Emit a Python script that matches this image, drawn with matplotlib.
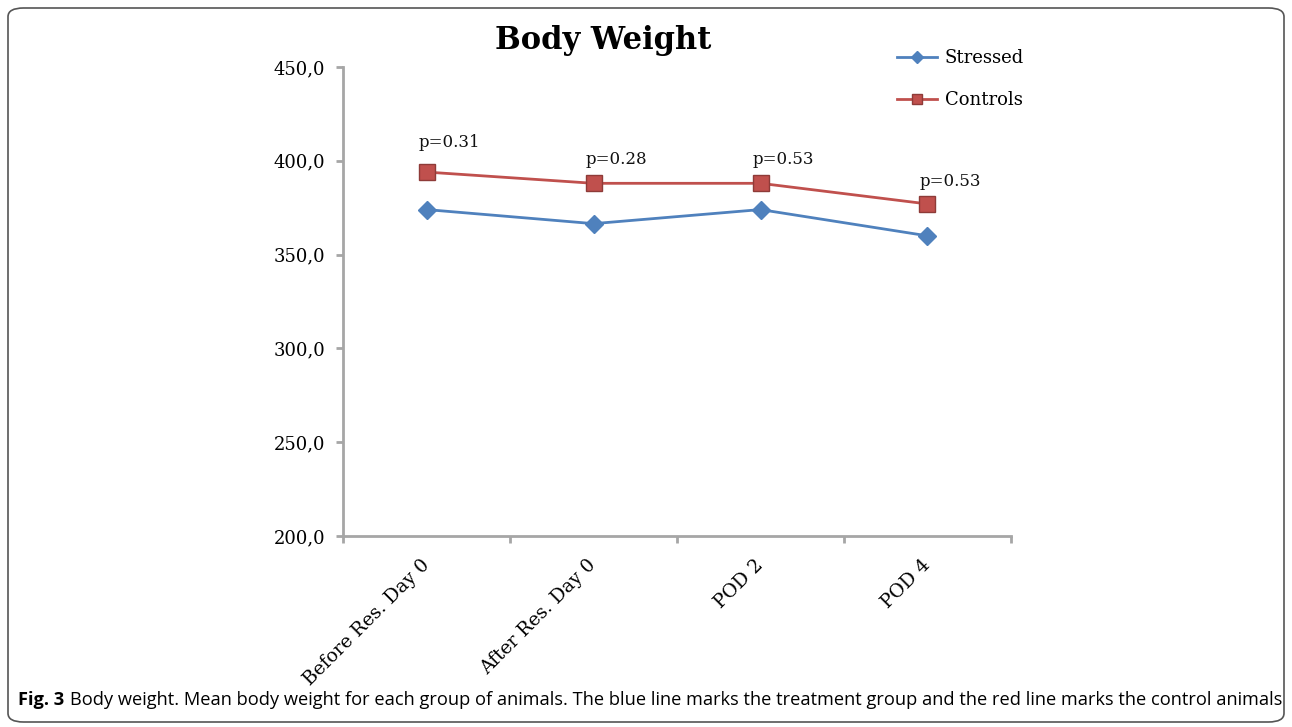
import matplotlib
matplotlib.use("Agg")
import matplotlib.pyplot as plt
from matplotlib.patches import FancyBboxPatch
from matplotlib.ticker import FuncFormatter, FixedLocator
from matplotlib import font_manager

# ---- data ----
categories = ["Before Res. Day 0", "After Res. Day 0", "POD 2", "POD 4"]
stressed = [374, 366.5, 374, 360]
controls = [394, 388, 388, 377]
p_values = ["p=0.31", "p=0.28", "p=0.53", "p=0.53"]
p_label_y = [409.5, 400.5, 400.5, 389]
y_ticks = [200, 250, 300, 350, 400, 450]
title = "Body Weight"
caption_bold = "Fig. 3"
caption_rest = ("Body weight. Mean body weight for each group of animals. The blue line marks "
                "the treatment group and the red line marks the control animals")

W, H = 1292, 727
fig = plt.figure(figsize=(W / 100, H / 100), dpi=100)

serif = "DejaVu Serif"
blue = "#4F81BD"
red = "#C0504D"
axis_grey = "#A6A6A6"

ax = fig.add_axes([343 / W, 1 - 536 / H, (1011 - 343) / W, (536 - 67) / H])
x = list(range(len(categories)))
ax.plot(x, stressed, color=blue, lw=2, marker="D", ms=9, mfc=blue, mec=blue,
        label="Stressed", clip_on=False)
ax.plot(x, controls, color=red, lw=2, marker="s", ms=11, mfc=red, mec="#8E3B38",
        mew=1, label="Controls", clip_on=False)

for xi, lbl, yl in zip(x, p_values, p_label_y):
    ax.text(xi - 0.05, yl, lbl, fontsize=12, family=serif, ha="left", va="center",
            color="#111111")

ax.set_xlim(-0.5, len(categories) - 0.5)
ax.set_ylim(y_ticks[0], y_ticks[-1])
ax.set_yticks(y_ticks)
ax.yaxis.set_major_formatter(FuncFormatter(lambda v, p: f"{v:.1f}".replace(".", ",")))

ax.set_xticks(x)
ax.set_xticklabels(categories, rotation=45, ha="right", va="center",
                   rotation_mode="anchor", fontsize=13.5, family=serif)
ax.tick_params(axis="x", which="major", length=0, pad=19)
ax.xaxis.set_minor_locator(FixedLocator([i - 0.5 for i in range(len(categories) + 1)]))
ax.tick_params(axis="x", which="minor", length=5, width=2, color=axis_grey, direction="out")
ax.tick_params(axis="y", length=5, width=2, color=axis_grey, direction="out", pad=8,
               labelsize=13)
for t in ax.get_yticklabels():
    t.set_family(serif)

for s in ["top", "right"]:
    ax.spines[s].set_visible(False)
for s in ["left", "bottom"]:
    ax.spines[s].set_color(axis_grey)
    ax.spines[s].set_linewidth(2)

fig.text(603 / W, 1 - 41 / H, title, fontsize=22, fontweight="bold", family=serif,
         ha="center", va="center")

leg = fig.legend(loc="upper left", bbox_to_anchor=(897 / W, 1 - 49 / H), frameon=False,
                 prop={"family": serif, "size": 13}, handlelength=2.2, markerscale=0.7,
                 handletextpad=0.45, labelspacing=1.35, borderpad=0, borderaxespad=0)

# frame
frame = FancyBboxPatch((8 / W, 5 / H), (W - 16) / W, (H - 13) / H,
                       boxstyle="round,pad=0,rounding_size=0.012",
                       transform=fig.transFigure, fill=False, ec="#555555", lw=1.2)
fig.add_artist(frame)

# caption font
cap_family = ["Open Sans"]
try:
    font_manager.findfont("Liberation Sans Narrow", fallback_to_default=False)
    cap_family = ["Liberation Sans Narrow", "Open Sans"]
except Exception:
    pass

cap_size = 13
t1 = fig.text(18 / W, 1 - 700 / H, caption_bold, fontsize=cap_size, fontweight="bold",
              family=cap_family, ha="left", va="center")
t2 = ax.annotate(caption_rest, xy=(1, 0.5), xycoords=t1, xytext=(4, 0),
                 textcoords="offset points", ha="left", va="center",
                 fontsize=cap_size, family=cap_family, annotation_clip=False)

# fit caption width to reference (ends ~1280 px)
fig.canvas.draw()
r = fig.canvas.get_renderer()
for _ in range(3):
    right = t2.get_window_extent(r).x1
    left = t1.get_window_extent(r).x0
    scale = (1280 - left) / (right - left)
    cap_size *= scale
    t1.set_fontsize(cap_size)
    t2.set_fontsize(cap_size)
    fig.canvas.draw()

fig.savefig("out.png", dpi=100)
